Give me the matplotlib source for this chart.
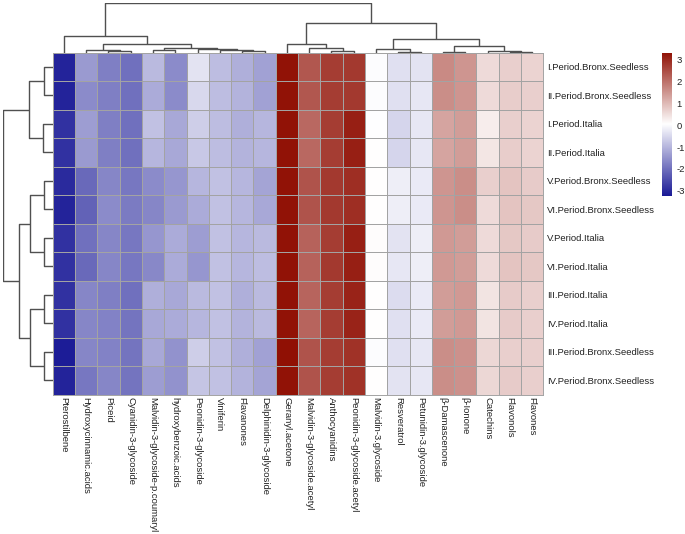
import matplotlib
matplotlib.use("Agg")
import matplotlib.pyplot as plt
import numpy as np
from matplotlib.colors import LinearSegmentedColormap

compounds = ["Pterostilbene", "Hydroxycinnamic.acids", "Piceid", "Cyanidin-3-glycoside",
             "Malvidin-3-glycoside-p.coumaryl", "hydroxybenzoic.acids", "Peonidin-3-glycoside",
             "Viniferin", "Flavanones", "Delphinidin-3-glycoside", "Geranyl.acetone",
             "Malvidin-3-glycoside.acetyl", "Anthocyanidins", "Peonidin-3-glycoside.acetyl",
             "Malvidin-3.glycoside", "Resveratrol", "Petunidin-3.glycoside", "β-Damascenone",
             "β-Ionone", "Catechins", "Flavonols", "Flavones"]

samples = ["I.Period.Bronx.Seedless", "II.Period.Bronx.Seedless", "I.Period.Italia",
           "II.Period.Italia", "V.Period.Bronx.Seedless", "VI.Period.Bronx.Seedless",
           "V.Period.Italia", "VI.Period.Italia", "III.Period.Italia", "IV.Period.Italia",
           "III.Period.Bronx.Seedless", "IV.Period.Bronx.Seedless"]

# values per compound (column), one per sample (row)
Pterostilbene = [-3.1, -3.1, -2.9, -2.9, -3.0, -3.1, -2.9, -2.9, -2.9, -2.9, -3.2, -3.1]
Hydroxycinnamic = [-1.4, -1.6, -1.35, -1.4, -2.1, -2.2, -2.0, -2.1, -1.7, -1.7, -1.7, -1.9]
Piceid = [-1.8, -1.8, -1.8, -1.8, -1.7, -1.6, -1.7, -1.7, -1.8, -1.75, -1.75, -1.7]
Cyanidin = [-2.0, -2.0, -2.0, -2.0, -1.9, -1.85, -1.9, -1.9, -2.0, -1.95, -1.95, -1.95]
MalvCoum = [-0.95, -1.15, -0.85, -1.0, -1.6, -1.7, -1.45, -1.65, -1.1, -1.2, -1.2, -1.35]
Hydroxybenzoic = [-1.6, -1.6, -1.2, -1.2, -1.45, -1.4, -1.15, -1.15, -1.2, -1.15, -1.5, -1.5]
Peonidin = [-0.35, -0.5, -0.65, -0.75, -1.0, -1.15, -1.35, -1.45, -0.95, -1.0, -0.65, -0.8]
Viniferin = [-0.9, -0.9, -0.9, -0.9, -0.85, -0.85, -0.85, -0.85, -0.85, -0.85, -0.85, -0.85]
Flavanones = [-1.1, -1.05, -1.1, -1.05, -1.0, -1.0, -1.0, -1.0, -1.1, -1.05, -1.1, -1.05]
Delphinidin = [-1.3, -1.3, -1.0, -1.0, -1.25, -1.2, -0.95, -0.9, -0.95, -0.95, -1.3, -1.25]
Geranyl = [3.3, 3.3, 3.28, 3.28, 3.3, 3.3, 3.28, 3.28, 3.3, 3.3, 3.33, 3.3]
MalvAcetyl = [2.35, 2.35, 2.1, 2.1, 2.4, 2.4, 2.2, 2.2, 2.15, 2.15, 2.4, 2.4]
Anthocyanidins = [2.7, 2.7, 2.7, 2.7, 2.75, 2.75, 2.7, 2.75, 2.7, 2.7, 2.7, 2.7]
PeonAcetyl = [2.75, 2.75, 3.1, 3.1, 2.9, 2.9, 3.1, 3.1, 3.05, 3.05, 2.85, 2.85]
Malvidin3 = [0.0, 0.0, 0.02, 0.05, 0.05, 0.05, 0.08, 0.08, 0.05, 0.05, 0.0, 0.05]
Resveratrol = [-0.4, -0.4, -0.55, -0.55, -0.2, -0.2, -0.35, -0.3, -0.45, -0.4, -0.4, -0.35]
Petunidin = [-0.35, -0.3, -0.3, -0.3, -0.25, -0.25, -0.2, -0.2, -0.25, -0.25, -0.3, -0.3]
Damascenone = [1.65, 1.6, 1.3, 1.3, 1.5, 1.5, 1.45, 1.45, 1.4, 1.4, 1.6, 1.6]
Ionone = [1.5, 1.5, 1.4, 1.4, 1.6, 1.6, 1.4, 1.4, 1.45, 1.45, 1.55, 1.55]
Catechins = [0.55, 0.55, 0.3, 0.4, 0.7, 0.55, 0.55, 0.55, 0.42, 0.42, 0.6, 0.6]
Flavonols = [0.7, 0.72, 0.7, 0.72, 0.85, 0.85, 0.8, 0.85, 0.75, 0.75, 0.7, 0.75]
Flavones = [0.65, 0.7, 0.65, 0.65, 0.75, 0.8, 0.75, 0.8, 0.7, 0.7, 0.7, 0.7]

columns = [Pterostilbene, Hydroxycinnamic, Piceid, Cyanidin, MalvCoum, Hydroxybenzoic,
           Peonidin, Viniferin, Flavanones, Delphinidin, Geranyl, MalvAcetyl, Anthocyanidins,
           PeonAcetyl, Malvidin3, Resveratrol, Petunidin, Damascenone, Ionone, Catechins,
           Flavonols, Flavones]

# dendrograms: (merge height, left, right), leaves = index in display order
col_tree = (149,
            (49, 0, (27, (9, 1, (5, 2, 3)), (15, (9, 4, 5), (12, 6, (7, 7, (4, 8, 9)))))),
            (89, (27, 10, (15, 11, (5, 12, 13))),
                 (40, (10, 14, (2, 15, 16)), (20, (2, 17, 18), (5, 19, (1, 20, 21))))))
row_tree = (149,
            (72, (27, 0, 1), (29, 2, 3)),
            (102, (67, (26, 4, 5), (27, 6, 7)), (67, (26, 8, 9), (26, 10, 11))))

vmin, vmax = -3.24, 3.33
colorbar_ticks = [-3, -2, -1, 0, 1, 2, 3]

data = np.array(columns).T  # rows = samples

plt.rcParams['font.family'] = ['Liberation Sans', 'DejaVu Sans']
fig = plt.figure(figsize=(6.85, 5.34), dpi=100)
W, H = 685.0, 534.0

def fx(px):
    return px / W

def fy(py):
    return 1 - py / H

FS = 6.8
TXT = "#222222"
hm_l, hm_r, hm_t, hm_b = 52.7, 543.3, 52.7, 394.7
cmap = LinearSegmentedColormap.from_list("bwr_custom", ["#1a1a96", "#ffffff", "#901004"], N=256)
norm = plt.Normalize(vmin, vmax)

ax = fig.add_axes([fx(hm_l), fy(hm_b), fx(hm_r - hm_l), (hm_b - hm_t) / H])
ax.pcolormesh(data, cmap=cmap, norm=norm, edgecolors="#a3a3a3", linewidth=0.7)
ax.set_xlim(0, data.shape[1])
ax.set_ylim(data.shape[0], 0)
ax.set_xticks(np.arange(data.shape[1]) + 0.5)
ax.set_xticklabels(compounds, rotation=270, ha="center", va="top", fontsize=FS, color=TXT)
ax.yaxis.tick_right()
ax.set_yticks(np.arange(data.shape[0]) + 0.5)
ax.set_yticklabels(samples, fontsize=FS, color=TXT)
ax.tick_params(axis="x", length=0, pad=2.0)
ax.tick_params(axis="y", length=0, pad=2.5)
for s in ax.spines.values():
    s.set_color("#a3a3a3")
    s.set_linewidth(0.7)

def draw_tree(a, node, orient):
    if isinstance(node, int):
        return node + 0.5, 0.0
    h, l, r = node
    xl, hl = draw_tree(a, l, orient)
    xr, hr = draw_tree(a, r, orient)
    xs = [xl, xl, xr, xr]
    ys = [hl, h, h, hr]
    if orient == "top":
        a.plot(xs, ys, color="#505050", lw=1.0, solid_capstyle="butt")
    else:
        a.plot(ys, xs, color="#505050", lw=1.0, solid_capstyle="butt")
    return (xl + xr) / 2, h

axt = fig.add_axes([fx(hm_l), fy(hm_t), fx(hm_r - hm_l), (hm_t - 3.0) / H])
draw_tree(axt, col_tree, "top")
axt.set_xlim(0, data.shape[1])
axt.set_ylim(0, col_tree[0])
axt.axis("off")

axl = fig.add_axes([fx(3.0), fy(hm_b), fx(hm_l - 3.0), (hm_b - hm_t) / H])
draw_tree(axl, row_tree, "left")
axl.set_ylim(data.shape[0], 0)
axl.set_xlim(row_tree[0], 0)
axl.axis("off")

cb_l, cb_r, cb_t, cb_b = 662.0, 672.0, 52.7, 196.0
axc = fig.add_axes([fx(cb_l), fy(cb_b), fx(cb_r - cb_l), (cb_b - cb_t) / H])
grad = np.linspace(vmin, vmax, 256).reshape(-1, 1)
axc.imshow(grad, aspect="auto", cmap=cmap, norm=norm, origin="lower",
           extent=[0, 1, vmin, vmax])
axc.set_xticks([])
axc.yaxis.tick_right()
axc.set_yticks(colorbar_ticks)
axc.set_yticklabels([str(t) for t in colorbar_ticks], fontsize=FS, color=TXT)
axc.tick_params(length=0, pad=3)
for s in axc.spines.values():
    s.set_visible(False)

fig.savefig("out.png", dpi=100)
